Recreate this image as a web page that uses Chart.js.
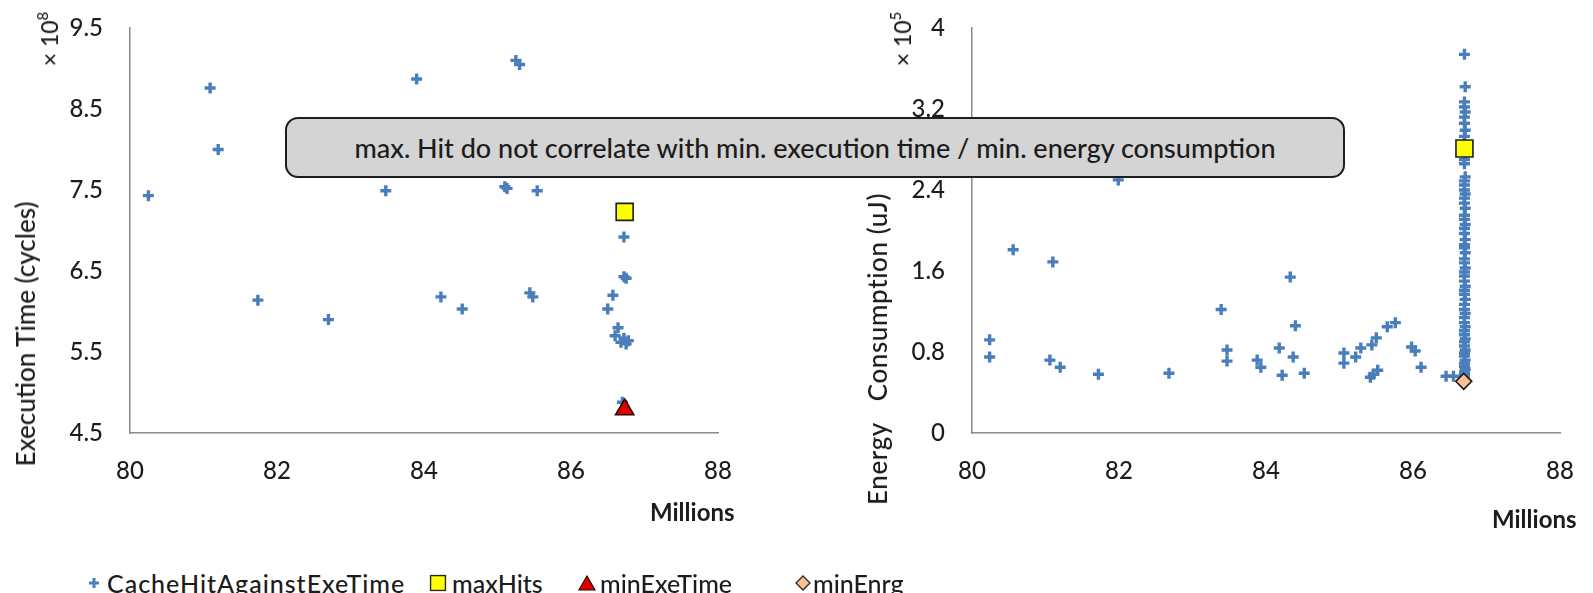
<!DOCTYPE html>
<html>
<head>
<meta charset="utf-8">
<title>Cache hits vs execution time / energy</title>
<script src="https://cdn.jsdelivr.net/npm/chart.js@4.4.0/dist/chart.umd.min.js"></script>
<style>
    html, body { margin: 0; padding: 0; background: #fff; }
    #page { position: relative; width: 1593px; height: 593px; overflow: hidden; font-family: Lato, sans-serif; font-weight: 500; color: #1c1c1c; }
    #page canvas { position: absolute; top: 0; }
    #leftChart { left: 0; }
    #rightChart { left: 780px; }
    .rot { position: absolute; white-space: nowrap; transform: translate(-50%, -50%) rotate(-90deg); }
    .ytitle { font-size: 26px; }
    .unit { font-size: 23px; }
    .unit sup { font-size: 15px; vertical-align: 10px; }
    .xtitle { position: absolute; font-size: 24px; font-weight: bold; white-space: nowrap; }
    .note { position: absolute; left: 285px; top: 117px; width: 1056px; height: 57px; border: 2.5px solid #1e1e1e; border-radius: 13px;
            background: #d4d4d4; display: flex; align-items: center; justify-content: center; font-size: 27px; color: #1c1c1c; z-index: 2; }
    .lg { position: absolute; top: 583px; transform: translateY(-50%); font-size: 25px; white-space: nowrap; }
    .lgm { position: absolute; top: 583px; transform: translate(-50%, -50%); display: block; }
</style>
</head>
<body>
<div id="page">
    <canvas id="leftChart" width="780" height="540"></canvas>
    <canvas id="rightChart" width="813" height="540"></canvas>

    <div class="rot ytitle" style="left:25px; top:334px;">Execution Time (cycles)</div>
    <div class="rot unit" style="left:48px; top:39px;">× 10<sup>8</sup></div>
    <div class="xtitle" style="left:650px; top:497px;">Millions</div>

    <div class="rot ytitle" style="left:877px; top:349px; letter-spacing:0.6px;">Energy&nbsp;&nbsp; Consumption (uJ)</div>
    <div class="rot unit" style="left:901px; top:39px;">× 10<sup>5</sup></div>
    <div class="xtitle" style="left:1492px; top:504px;">Millions</div>

    <div class="note">max. Hit do not correlate with min. execution time / min. energy consumption</div>

    <svg class="lgm" style="left:94px" width="12" height="12"><path d="M6 1V11M1 6H11" stroke="#4A7EBB" stroke-width="3"/></svg>
    <div class="lg" style="left:107px; letter-spacing:1px;">CacheHitAgainstExeTime</div>
    <svg class="lgm" style="left:438px" width="17" height="17"><rect x="1" y="1" width="15" height="15" fill="#FFFF00" stroke="#262626" stroke-width="1.5"/></svg>
    <div class="lg" style="left:452px">maxHits</div>
    <svg class="lgm" style="left:587px" width="18" height="16"><polygon points="9,1 17,15 1,15" fill="#E00000" stroke="#300" stroke-width="1.2"/></svg>
    <div class="lg" style="left:600px">minExeTime</div>
    <svg class="lgm" style="left:803px" width="16" height="16"><polygon points="8,1 15,8 8,15 1,8" fill="#FAC090" stroke="#262626" stroke-width="1.3"/></svg>
    <div class="lg" style="left:813px">minEnrg</div>
</div>
<script>
// axis ticks
const hitTicks = [80, 82, 84, 86, 88];            // cache hits, millions
const timeTicks = [4.5, 5.5, 6.5, 7.5, 8.5, 9.5];  // x 10^8 cycles
const energyTicks = [0, 0.8, 1.6, 2.4, 3.2, 4];    // x 10^5 uJ

// left chart: cache hits (millions) vs execution time (x 10^8 cycles)
const timeHits = [80.25, 81.09, 81.2, 81.74, 82.7, 83.48, 83.9, 84.23, 84.52, 85.1, 85.13, 85.25, 85.3, 85.44,
    85.48, 85.54, 86.5, 86.57, 86.64, 86.6, 86.68, 86.75, 86.78, 86.72, 86.72, 86.75, 86.72, 86.7];
const timeValues = [7.43, 8.76, 8.0, 6.14, 5.9, 7.49, 8.87, 6.18, 6.03, 7.54, 7.52, 9.1, 9.05, 6.23,
    6.18, 7.49, 6.03, 6.2, 5.8, 5.7, 5.62, 5.6, 5.64, 5.67, 6.43, 6.41, 6.92, 4.88];
const maxHitsTimeX = [86.73];
const maxHitsTimeY = [7.23];
const minExeTimeX = [86.73];
const minExeTimeY = [4.79];

// right chart: cache hits (millions) vs energy consumption (x 10^5 uJ)
const energyHits = [80.24, 80.24, 80.56, 81.06, 81.1, 81.2, 81.72, 81.99, 82.68, 83.39, 83.47, 83.47, 83.88, 83.93,
    84.18, 84.22, 84.33, 84.4, 84.37, 84.52, 85.06, 85.06, 85.22, 85.29, 85.44, 85.5, 85.42, 85.46, 85.52, 85.65,
    85.76, 85.98, 86.03, 86.11, 86.45, 86.55,
    86.7, 86.71, 86.7, 86.7, 86.71, 86.7, 86.7, 86.71, 86.7, 86.7, 86.71, 86.7, 86.7, 86.71, 86.7, 86.7, 86.7, 86.71,
    86.7, 86.7, 86.71, 86.7, 86.7, 86.71, 86.7, 86.7, 86.71, 86.7, 86.7, 86.71, 86.7, 86.7, 86.71, 86.7, 86.7, 86.7,
    86.71, 86.7, 86.7, 86.71, 86.7, 86.7, 86.71, 86.7, 86.7, 86.71, 86.7, 86.7, 86.71, 86.7, 86.7, 86.71, 86.7, 86.7,
    86.71, 86.7, 86.7, 86.71, 86.7, 86.7, 86.7];
const energyValues = [0.92, 0.75, 1.81, 0.72, 1.69, 0.65, 0.58, 2.5, 0.59, 1.22, 0.82, 0.71, 0.72, 0.65,
    0.84, 0.57, 1.54, 1.06, 0.75, 0.59, 0.79, 0.69, 0.75, 0.84, 0.87, 0.94, 0.55, 0.58, 0.62, 1.05,
    1.09, 0.85, 0.81, 0.65, 0.56, 0.56,
    3.74, 3.42, 3.27, 3.22, 3.17, 3.12, 3.06, 2.99, 2.93, 2.86, 2.76, 2.7, 2.66, 2.53, 2.49, 2.45, 2.4, 2.36,
    2.32, 2.27, 2.22, 2.15, 2.11, 2.06, 2.02, 1.97, 1.91, 1.86, 1.83, 1.78, 1.72, 1.68, 1.63, 1.59, 1.55, 1.5,
    1.45, 1.41, 1.37, 1.32, 1.27, 1.22, 1.18, 1.14, 1.09, 1.05, 1.01, 0.97, 0.93, 0.9, 0.86, 0.82, 0.79, 0.76,
    0.72, 0.69, 0.66, 0.63, 0.6, 0.57, 0.54];
const maxHitsEnergyX = [86.7];
const maxHitsEnergyY = [2.81];
const minEnrgX = [86.69];
const minEnrgY = [0.51];

const BLUE = '#4A7EBB';
const INK = '#1c1c1c';

Chart.defaults.font.family = 'Lato';

function pts(xs, ys) {
    return xs.map((x, i) => ({ x: x, y: ys[i] }));
}

function hitsSeries(label, xs, ys) {
    return {
        label: label,
        data: pts(xs, ys),
        pointStyle: 'cross',
        pointRadius: 5.5,
        pointBorderWidth: 3.4,
        borderColor: BLUE,
        backgroundColor: BLUE,
        order: 1
    };
}

function marker(label, xs, ys, style, radius, fill, edge) {
    return {
        label: label,
        data: pts(xs, ys),
        pointStyle: style,
        pointRadius: radius,
        pointBorderWidth: 1.6,
        borderColor: edge,
        backgroundColor: fill,
        order: 0
    };
}

function options(yTicks, yMax, axisWidth, padRight) {
    const tickFont = { size: 24, weight: 500 };
    return {
        responsive: false,
        animation: false,
        devicePixelRatio: 1,
        layout: { padding: { top: 28, right: padRight, bottom: 0, left: 0 } },
        plugins: { legend: { display: false }, tooltip: { enabled: false } },
        scales: {
            x: {
                type: 'linear',
                min: 80,
                max: 88,
                afterBuildTicks: s => { s.ticks = hitTicks.map(v => ({ value: v })); },
                // fixed size, and keep the label padding from pushing the plot area in
                afterFit: s => { s.height = 107; s.paddingLeft = 0; s.paddingRight = 0; },
                grid: { display: false, drawTicks: false },
                border: { display: true, color: '#8a8a8a', width: 1.5 },
                ticks: { color: INK, font: tickFont, padding: 24, maxRotation: 0, callback: v => String(v) }
            },
            y: {
                type: 'linear',
                min: yTicks[0],
                max: yMax,
                afterBuildTicks: s => { s.ticks = yTicks.map(v => ({ value: v })); },
                afterFit: s => { s.width = axisWidth; s.paddingTop = 0; s.paddingBottom = 0; },
                grid: { display: false, drawTicks: false },
                border: { display: true, color: '#8a8a8a', width: 1.5 },
                ticks: { color: INK, font: tickFont, padding: 27, callback: v => String(v) }
            }
        }
    };
}

new Chart(document.getElementById('leftChart'), {
    type: 'scatter',
    data: {
        datasets: [
            hitsSeries('CacheHitAgainstExeTime', timeHits, timeValues),
            marker('maxHits', maxHitsTimeX, maxHitsTimeY, 'rect', 12, '#FFFF00', INK),
            marker('minExeTime', minExeTimeX, minExeTimeY, 'triangle', 10.5, '#E00000', '#3a0000')
        ]
    },
    options: options(timeTicks, 9.5, 130, 62)
});

new Chart(document.getElementById('rightChart'), {
    type: 'scatter',
    data: {
        datasets: [
            hitsSeries('CacheHitAgainstEnergy', energyHits, energyValues),
            marker('maxHits', maxHitsEnergyX, maxHitsEnergyY, 'rect', 12, '#FFFF00', INK),
            marker('minEnrg', minEnrgX, minEnrgY, 'rectRot', 8, '#FAC090', INK)
        ]
    },
    options: options(energyTicks, 4, 192, 33)
});
</script>
</body>
</html>
